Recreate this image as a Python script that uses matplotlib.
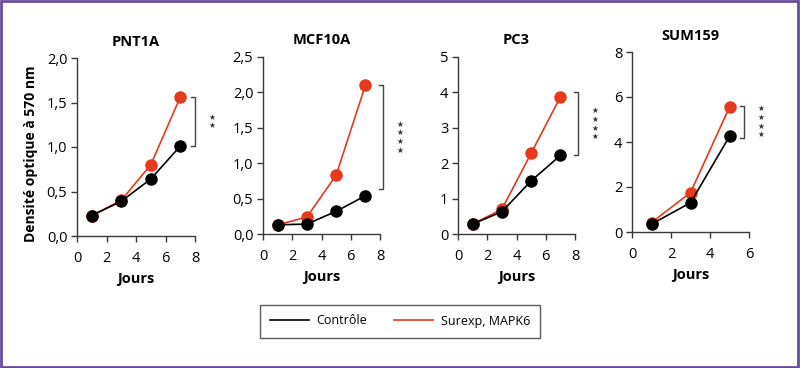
import matplotlib
matplotlib.use("Agg")
import matplotlib.pyplot as plt
from matplotlib.lines import Line2D
from matplotlib.patches import Rectangle

plt.rcParams["font.family"] = ["Open Sans", "DejaVu Sans"]

# data
titles = ["PNT1A", "MCF10A", "PC3", "SUM159"]
days = [[1, 3, 5, 7], [1, 3, 5, 7], [1, 3, 5, 7], [1, 3, 5]]
ctrl = [
    [0.23, 0.39, 0.64, 1.01],
    [0.13, 0.14, 0.32, 0.54],
    [0.28, 0.63, 1.50, 2.22],
    [0.35, 1.30, 4.25],
]
surexp = [
    [0.23, 0.40, 0.80, 1.56],
    [0.13, 0.24, 0.83, 2.10],
    [0.28, 0.70, 2.28, 3.87],
    [0.42, 1.75, 5.55],
]
ymax = [2.0, 2.5, 5, 8]
yticks = [[0, 0.5, 1.0, 1.5, 2.0], [0, 0.5, 1.0, 1.5, 2.0, 2.5],
          [0, 1, 2, 3, 4, 5], [0, 2, 4, 6, 8]]
xmax = [8, 8, 8, 6]
xticks = [[0, 2, 4, 6, 8], [0, 2, 4, 6, 8], [0, 2, 4, 6, 8], [0, 2, 4, 6]]
bracket_y = [(1.01, 1.56), (0.635, 2.10), (2.23, 4.0), (4.2, 5.6)]
bracket_x = [8.0, 8.2, 8.2, 5.75]
n_stars = [2, 4, 4, 4]

RED = "#e6391f"
AXC = "#3a3a3a"

fig = plt.figure(figsize=(8, 3.68), dpi=100)
positions = [
    (77, 195, 236, 58),
    (263, 380, 234, 57),
    (458, 575, 234, 57),
    (632, 749, 232, 52),
]

for i, (l, r, b, t) in enumerate(positions):
    ax = fig.add_axes([l / 800, 1 - b / 368, (r - l) / 800, (b - t) / 368])
    ax.plot(days[i], ctrl[i], color="black", lw=1.2, marker="o",
            markersize=8, clip_on=False, zorder=3)
    ax.plot(days[i], surexp[i], color=RED, lw=1.2, marker="o",
            markersize=8, clip_on=False, zorder=2)
    ax.set_xlim(0, xmax[i])
    ax.set_ylim(0, ymax[i])
    ax.set_xticks(xticks[i])
    ax.set_yticks(yticks[i])
    if i < 2:
        ax.set_yticklabels([f"{v:.1f}".replace(".", ",") for v in yticks[i]])
    for s in ["top", "right"]:
        ax.spines[s].set_visible(False)
    for s in ["left", "bottom"]:
        ax.spines[s].set_color(AXC)
        ax.spines[s].set_linewidth(1.0)
    ax.tick_params(direction="out", length=4, width=1.0, color=AXC,
                   labelsize=10.5)
    ax.tick_params(axis="x", pad=7)
    ax.tick_params(axis="y", pad=3)
    ax.set_title(titles[i], fontsize=10.5, fontweight="bold", pad=9)
    ax.set_xlabel("Jours", fontsize=10.5, fontweight="bold", labelpad=4)

    # significance bracket
    y0, y1 = bracket_y[i]
    bx = bracket_x[i]
    dx = 0.3 * xmax[i] / 8
    ax.plot([bx - dx, bx, bx, bx - dx], [y1, y1, y0, y0], color="#444444",
            lw=1.0, clip_on=False)
    ax.text(bx + 1.15 * xmax[i] / 8, (y0 + y1) / 2, "\n".join("★" * n_stars[i]),
            ha="center", va="center", fontsize=5.5, linespacing=0.95,
            color="#333333", family="DejaVu Sans")

    if i == 0:
        ax.set_ylabel("Densité optique à 570 nm", fontsize=10,
                      fontweight="bold")
        ax.yaxis.set_label_coords(-0.33, 0.46)

handles = [Line2D([], [], color="black", lw=1.2),
           Line2D([], [], color=RED, lw=1.2)]
fig.legend(handles, ["Contrôle", "Surexp, MAPK6"], loc="center",
           bbox_to_anchor=(0.5, 1 - 321 / 368), ncol=2, fontsize=9,
           frameon=True, fancybox=False, edgecolor="#333333",
           handlelength=3.1, handletextpad=0.6, columnspacing=2.2,
           borderpad=0.8)

fig.patches.append(Rectangle((0.001, 0.002), 0.997, 0.996,
                             transform=fig.transFigure, fill=False,
                             edgecolor="#6a4c9c", lw=2.0))

fig.savefig("out.png", dpi=100)
